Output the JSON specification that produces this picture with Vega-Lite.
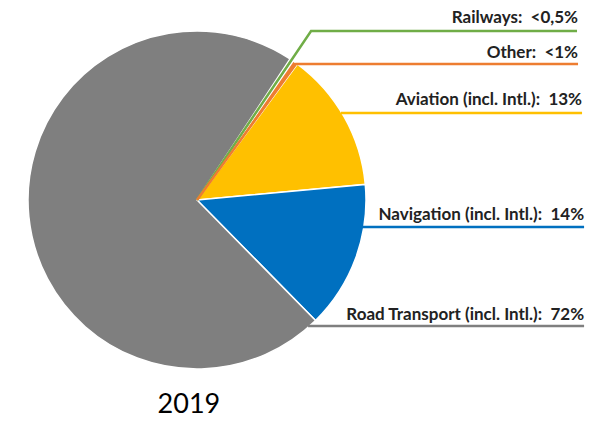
{
  "$schema": "https://vega.github.io/schema/vega-lite/v6.json",
  "width": 610,
  "height": 421,
  "autosize": {"type": "fit", "contains": "padding"},
  "padding": 0,
  "background": "white",
  "config": {"view": {"stroke": null}},
  "datasets": {
    "shares": [
      {"category": "Railways", "share": 0.35, "o": 1},
      {"category": "Other", "share": 0.5, "o": 2},
      {"category": "Aviation", "share": 13.4, "o": 3},
      {"category": "Navigation", "share": 14.1, "o": 4},
      {"category": "Road Transport", "share": 71.65, "o": 5}
    ],
    "leaders": [
      {"category": "Railways", "p": 1, "u": 0.0, "v": 0.0},
      {"category": "Railways", "p": 2, "u": 0.679, "v": 1.006},
      {"category": "Railways", "p": 3, "u": 2.262, "v": 1.006},
      {"category": "Other", "p": 1, "u": 0.0, "v": 0.0},
      {"category": "Other", "p": 2, "u": 0.589, "v": 0.81},
      {"category": "Other", "p": 3, "u": 2.268, "v": 0.81},
      {"category": "Aviation", "p": 1, "u": 0.857, "v": 0.518},
      {"category": "Aviation", "p": 2, "u": 2.292, "v": 0.518},
      {"category": "Navigation", "p": 1, "u": 0.982, "v": -0.161},
      {"category": "Navigation", "p": 2, "u": 2.304, "v": -0.161},
      {"category": "Road Transport", "p": 1, "u": 0.661, "v": -0.75},
      {"category": "Road Transport", "p": 2, "u": 2.304, "v": -0.75}
    ],
    "labels": [
      {"text": "Railways:\u00a0 <0,5%", "u": 2.268, "v": 1.054},
      {"text": "Other:\u00a0 <1%", "u": 2.268, "v": 0.845},
      {"text": "Aviation (incl. Intl.):\u00a0 13%", "u": 2.292, "v": 0.565},
      {"text": "Navigation (incl. Intl.):\u00a0 14%", "u": 2.304, "v": -0.119},
      {"text": "Road Transport (incl. Intl.):\u00a0 72%", "u": 2.304, "v": -0.714}
    ],
    "year": [
      {"text": "2019", "u": -0.048, "v": -1.268}
    ]
  },
  "layer": [
    {
      "data": {"name": "shares"},
      "mark": {"type": "arc", "outerRadius": 169, "stroke": "white", "strokeWidth": 1.5},
      "encoding": {
        "theta": {"field": "share", "type": "quantitative", "stack": true, "scale": {"range": [0.583, 6.866]}},
        "order": {"field": "o", "type": "quantitative"},
        "color": {
          "field": "category", "type": "nominal", "legend": null,
          "scale": {
            "domain": ["Railways", "Other", "Aviation", "Navigation", "Road Transport"],
            "range": ["#70AD47", "#ED7D31", "#FFC000", "#0070C0", "#7F7F7F"]
          }
        },
        "x": {"datum": 0, "type": "quantitative", "scale": {"domain": [-1.1726, 2.4583], "nice": false, "zero": false}, "axis": null},
        "y": {"datum": 0, "type": "quantitative", "scale": {"domain": [-1.3155, 1.1905], "nice": false, "zero": false}, "axis": null}
      }
    },
    {
      "data": {"name": "leaders"},
      "mark": {"type": "line", "strokeWidth": 2.5},
      "encoding": {
        "x": {"field": "u", "type": "quantitative"},
        "y": {"field": "v", "type": "quantitative"},
        "detail": {"field": "category"},
        "order": {"field": "p", "type": "quantitative"},
        "color": {"field": "category", "type": "nominal", "legend": null}
      }
    },
    {
      "data": {"name": "labels"},
      "mark": {"type": "text", "align": "right", "baseline": "alphabetic", "font": "Lato", "fontWeight": "bold", "fontSize": 17, "color": "#222222"},
      "encoding": {
        "x": {"field": "u", "type": "quantitative"},
        "y": {"field": "v", "type": "quantitative"},
        "text": {"field": "text"}
      }
    },
    {
      "data": {"name": "year"},
      "mark": {"type": "text", "align": "center", "baseline": "alphabetic", "font": "Lato", "fontSize": 27, "color": "#000000"},
      "encoding": {
        "x": {"field": "u", "type": "quantitative"},
        "y": {"field": "v", "type": "quantitative"},
        "text": {"field": "text"}
      }
    }
  ]
}
